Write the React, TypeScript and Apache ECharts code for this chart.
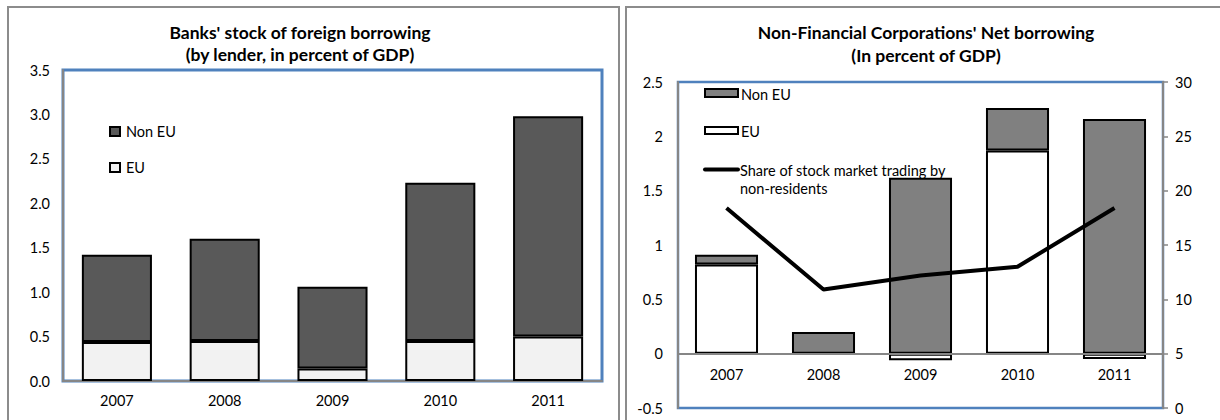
import React, { useEffect, useRef } from "react";
import * as echarts from "echarts";

// Categories
const years = ["2007", "2008", "2009", "2010", "2011"];

// Banks' stock of foreign borrowing, percent of GDP
const banksEU = [0.44, 0.45, 0.14, 0.45, 0.5];
const banksNonEU = [0.98, 1.15, 0.92, 1.78, 2.48];

// Non-financial corporations' net borrowing, percent of GDP
const nfcEU = [0.82, 0, -0.06, 1.87, -0.05];
const nfcNonEU = [0.09, 0.2, 1.62, 0.39, 2.16];

// Share of stock market trading by non-residents (right axis)
const nonResidentShare = [18.4, 10.9, 12.2, 13.0, 18.4];

// Axis ranges: [min, max, step]
const banksAxis = [0, 3.5, 0.5];
const nfcAxis = [-0.5, 2.5, 0.5];
const shareAxis = [0, 30, 5];

const FONT = "Lato, Carlito, 'Open Sans', sans-serif";
const BLUE = "#4f81bd";
const GRAY = "#868686";
const PANEL = "#8c8c8c";
const DARK = "#595959";
const LIGHT = "#f2f2f2";
const MID = "#808080";

const label = { color: "#000", fontSize: 14.5, fontFamily: FONT };

// right-hand plot box
const nfcGrid = { left: 678, top: 82, width: 485, height: 326 };
// move the category axis from the bottom edge up to the value 0
const nfcZeroOffset =
  -nfcGrid.height * ((0 - nfcAxis[0]) / (nfcAxis[1] - nfcAxis[0]));

function buildOption(): echarts.EChartsOption {
  const barStyle = (color: string) => ({
    color,
    borderColor: "#000",
    borderWidth: 2,
  });

  const legendRect = (x: number, y: number, w: number, h: number, fill: string) => ({
    type: "rect",
    shape: { x, y, width: w, height: h },
    style: { fill, stroke: "#000", lineWidth: 2 },
  });
  const legendText = (x: number, y: number, text: string) => ({
    type: "text",
    x,
    y,
    style: {
      text,
      fill: "#000",
      font: `14.5px ${FONT}`,
      textVerticalAlign: "middle",
    },
  });
  const titleLine = (x: number, y: number, text: string) => ({
    type: "text",
    x,
    y,
    style: {
      text,
      fill: "#000",
      font: `bold 17.5px ${FONT}`,
      textAlign: "center",
      textVerticalAlign: "middle",
    },
  });

  return {
    animation: false,
    backgroundColor: "#fff",
    grid: [
      {
        left: 63, top: 70, width: 539, height: 311,
        show: true, borderColor: BLUE, borderWidth: 3, backgroundColor: "transparent",
        outerBoundsMode: "none",
      },
      {
        ...nfcGrid,
        show: true, borderColor: BLUE, borderWidth: 2.5, backgroundColor: "transparent",
        outerBoundsMode: "none",
      },
    ],
    xAxis: [
      {
        gridIndex: 0,
        type: "category",
        data: years,
        z: 1,
        axisLine: { lineStyle: { color: GRAY, width: 2 } },
        axisTick: { show: false },
        axisLabel: { ...label, margin: 12 },
      },
      {
        gridIndex: 1,
        type: "category",
        data: years,
        z: 4,
        position: "bottom",
        offset: nfcZeroOffset,
        axisLine: { onZero: false, lineStyle: { color: GRAY, width: 2 } },
        axisTick: { show: false },
        axisLabel: { ...label, margin: 13 },
      },
    ],
    yAxis: [
      {
        gridIndex: 0,
        type: "value",
        min: banksAxis[0],
        max: banksAxis[1],
        interval: banksAxis[2],
        z: 1,
        axisLine: { show: true, lineStyle: { color: GRAY, width: 2 } },
        axisTick: { show: false },
        splitLine: { show: false },
        axisLabel: { ...label, margin: 13, formatter: (v: number) => v.toFixed(1) },
      },
      {
        gridIndex: 1,
        type: "value",
        min: nfcAxis[0],
        max: nfcAxis[1],
        interval: nfcAxis[2],
        z: 1,
        axisLine: { show: true, lineStyle: { color: GRAY, width: 2 } },
        axisTick: { show: false },
        splitLine: { show: false },
        axisLabel: { ...label, margin: 15 },
      },
      {
        gridIndex: 1,
        type: "value",
        position: "right",
        min: shareAxis[0],
        max: shareAxis[1],
        interval: shareAxis[2],
        z: 1,
        axisLine: { show: true, lineStyle: { color: GRAY, width: 2 } },
        axisTick: { show: true, inside: false, length: 5, lineStyle: { color: GRAY, width: 1.5 } },
        splitLine: { show: false },
        axisLabel: { ...label, margin: 12 },
      },
    ],
    series: [
      {
        name: "EU",
        type: "bar",
        xAxisIndex: 0,
        yAxisIndex: 0,
        stack: "banks",
        barWidth: "65%",
        data: banksEU,
        itemStyle: barStyle(LIGHT),
      },
      {
        name: "Non EU",
        type: "bar",
        xAxisIndex: 0,
        yAxisIndex: 0,
        stack: "banks",
        barWidth: "65%",
        data: banksNonEU,
        itemStyle: barStyle(DARK),
      },
      {
        name: "EU",
        type: "bar",
        xAxisIndex: 1,
        yAxisIndex: 1,
        stack: "nfc",
        stackStrategy: "samesign",
        barWidth: "65%",
        data: nfcEU,
        itemStyle: barStyle("#fff"),
      },
      {
        name: "Non EU",
        type: "bar",
        xAxisIndex: 1,
        yAxisIndex: 1,
        stack: "nfc",
        stackStrategy: "samesign",
        barWidth: "65%",
        data: nfcNonEU,
        itemStyle: barStyle(MID),
      },
      {
        name: "Share of stock market trading by non-residents",
        type: "line",
        xAxisIndex: 1,
        yAxisIndex: 2,
        z: 6,
        symbol: "none",
        data: nonResidentShare,
        lineStyle: { color: "#000", width: 4 },
      },
    ],
    graphic: [
      // panel frames
      { type: "rect", shape: { x: 8, y: 7, width: 611, height: 430 }, style: { fill: "none", stroke: PANEL, lineWidth: 2 }, z: 0 },
      { type: "rect", shape: { x: 626, y: 7, width: 610, height: 430 }, style: { fill: "none", stroke: PANEL, lineWidth: 2 }, z: 0 },
      // titles
      titleLine(300, 32, "Banks' stock of foreign borrowing"),
      titleLine(300, 54, "(by lender, in percent of GDP)"),
      titleLine(926, 32, "Non-Financial Corporations' Net borrowing"),
      titleLine(926, 55, "(In percent of GDP)"),
      // left legend
      legendRect(110, 127, 10, 9, DARK),
      legendText(126, 131.5, "Non EU"),
      legendRect(110, 163, 10, 9, LIGHT),
      legendText(126, 167, "EU"),
      // right legend
      legendRect(705, 89, 33, 8, MID),
      legendText(741, 94, "Non EU"),
      legendRect(705, 127, 33, 7, "#fff"),
      legendText(741, 131.5, "EU"),
      {
        type: "line",
        shape: { x1: 705, y1: 169.5, x2: 738, y2: 169.5 },
        style: { stroke: "#000", lineWidth: 4, lineCap: "round" },
      },
      legendText(740, 170, "Share of stock market trading by"),
      legendText(740, 188, "non-residents"),
    ],
  } as echarts.EChartsOption;
}

export default function App() {
  const ref = useRef<HTMLDivElement>(null);

  useEffect(() => {
    if (!ref.current) return;
    const chart = echarts.init(ref.current, undefined, { renderer: "svg" });
    chart.setOption(buildOption());
    return () => chart.dispose();
  }, []);

  return (
    <div
      ref={ref}
      style={{ position: "fixed", left: 0, top: 0, width: 1220, height: 420, background: "#fff" }}
    />
  );
}
